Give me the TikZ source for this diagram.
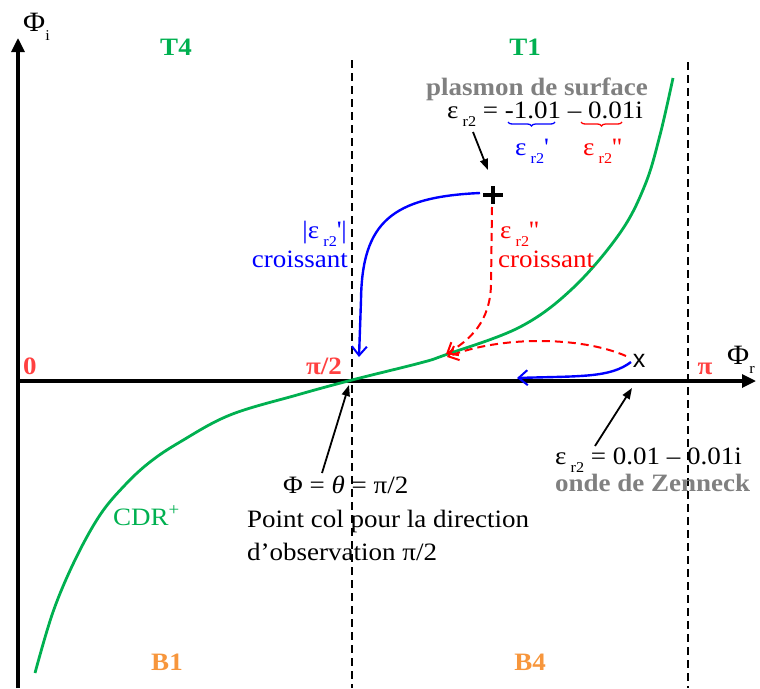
\documentclass[tikz,border=0pt]{standalone}
\usepackage{fontspec}
\setmainfont{Liberation Serif}[FakeStretch=1.08]
\newfontfamily\arialf{Liberation Sans}
\usetikzlibrary{arrows.meta,decorations.pathreplacing}
\definecolor{cgreen}{HTML}{00B050}
\definecolor{cred}{HTML}{FF0000}
\definecolor{lred}{HTML}{FF4040}
\definecolor{cblue}{HTML}{0000FF}
\definecolor{corange}{HTML}{F7963C}
\definecolor{cgray}{HTML}{808080}
\newcommand\subsc[1]{\smash{\raisebox{-0.33em}{\fontsize{15}{15}\selectfont #1}}}
\newcommand\er{ε\,\subsc{r2}}
\newcommand\dprime{\textquotesingle\kern0.5pt\textquotesingle}
\tikzset{
  txt/.style={inner sep=0pt, font=\fontsize{25}{28}\selectfont},
  btxt/.style={inner sep=0pt, font=\fontsize{25}{28}\selectfont\bfseries},
  axis/.style={line width=3.2pt, -{Triangle[length=14pt,width=13pt]}},
  vdash/.style={line width=1.8pt, dash pattern=on 8pt off 5pt},
  ptr/.style={line width=1.8pt, -{Triangle[length=11pt,width=8pt]}},
  barb/.style={-{Straight Barb[length=9pt,width=15pt,line width=2pt]}},
  bluearr/.style={cblue, line width=2.4pt, barb},
  redarr/.style={cred, line width=2pt, dash pattern=on 8pt off 5pt, barb},
  brc/.style={line width=1.3pt, decorate, decoration={brace, amplitude=4pt, mirror}},
}
\begin{document}
\begin{tikzpicture}[x=1pt,y=-1pt]
\useasboundingbox (0,0) rectangle (760,688);
% dashed verticals
\draw[vdash] (352,60) -- (352,688);
\draw[vdash] (688,62) -- (688,688);
% axes
\coordinate (o1) at (18,688);
\coordinate (yt) at (18,38);
\coordinate (o2) at (18,381);
\coordinate (xt) at (756,381);
\draw[axis] (o1) -- (yt);
\draw[axis] (o2) -- (xt);
% green curve CDR+
\draw[cgreen, line width=2.8pt] plot[smooth, tension=0.6] coordinates {(35,673) (53,612) (75,560) (100,515) (125,485) (150,462) (180,442) (230,415) (297,395) (352,380) (420,363) (445,355) (520,327) (573,288) (620,233) (645,185) (660,135) (673,78)};
% axis labels
\node[inner sep=0pt, font=\fontsize{28}{30}\selectfont, anchor=base west] (phii) at (23,31) {Φ\subsc{i}};
\node[inner sep=0pt, font=\fontsize{28}{30}\selectfont, anchor=base west] (phir) at (727,364) {Φ\subsc{r}};
% region labels
\node[btxt, cgreen, anchor=base] (t4) at (176,55) {T4};
\node[btxt, cgreen, anchor=base] (t1) at (525,55) {T1};
\node[btxt, corange, anchor=base] (b1) at (167,670) {B1};
\node[btxt, corange, anchor=base] (b4) at (530,670) {B4};
\node[btxt, lred, anchor=base] (z0) at (30,374) {0};
\node[btxt, lred, anchor=base] (zpi2) at (324,374) {π/2};
\node[btxt, lred, anchor=base] (zpi) at (705,374) {π};
\node[txt, cgreen, anchor=base west] (cdr) at (113,525) {CDR\textsuperscript{+}};
% plasmon
\node[btxt, cgray, anchor=base] (plas) at (537,95) {plasmon de surface};
\node[txt, anchor=base west] (eq1) at (447,118) {\er{} = -1.01 – 0.01i};
\draw[brc, cblue] (508,122) -- (555,122);
\draw[brc, cred] (581,122) -- (622,122);
\node[txt, cblue, anchor=base west] (erp) at (515,155) {\er\textquotesingle};
\node[txt, cred, anchor=base west] (erpp) at (583,155) {\er\dprime};
% plus and x markers
\coordinate (plus) at (493,195);
\draw[line width=3.4pt] (483,195) -- (503,195) (493,186) -- (493,204);
\node[inner sep=0pt, font=\arialf\fontsize{25}{25}\selectfont] (zx) at (639,361) {x};
% croissant labels
\node[txt, cblue, anchor=base east] (bl1) at (347,238) {|\er\textquotesingle|};
\node[txt, cblue, anchor=base east] (bl2) at (348,267) {croissant};
\node[txt, cred, anchor=base west] (rl1) at (500,238) {\er\dprime};
\node[txt, cred, anchor=base west] (rl2) at (498,267) {croissant};
% blue arrows
\coordinate (bs1) at (480,193);
\coordinate (be1) at (359,357);
\draw[bluearr] (bs1) .. controls (392,197) and (362,222) .. (361,300) -- (be1);
\coordinate (bs2) at (631,362);
\coordinate (be2) at (517,378);
\draw[bluearr] (bs2) .. controls (610,378) and (580,376) .. (be2);
% red dashed arrows
\coordinate (rs1) at (492,207);
\coordinate (re1) at (446,354);
\draw[redarr] (rs1) -- (491,285) .. controls (490,322) and (470,340) .. (re1);
\coordinate (rs2) at (626,356);
\coordinate (re2) at (447,357);
\draw[redarr] (rs2) .. controls (580,336) and (500,336) .. (re2);
% col point text
\node[txt, anchor=base west] (col1) at (283,493) {Φ = \textit{θ} = π/2};
\node[txt, anchor=base west] (col2) at (247,527) {Point col pour la direction};
\node[txt, anchor=base west] (col3) at (247,560) {d’observation π/2};
% zenneck text
\node[txt, anchor=base west] (zen1) at (555,464) {\er{} = 0.01 – 0.01i};
\node[btxt, cgray, anchor=base west] (zen2) at (555,491) {onde de Zenneck};
% pointer arrows
\coordinate (p1s) at (473,132);
\coordinate (p1e) at (488,170);
\draw[ptr] (p1s) -- (p1e);
\coordinate (p2s) at (322,473);
\coordinate (p2e) at (349,385);
\draw[ptr] (p2s) -- (p2e);
\coordinate (p3s) at (595,446);
\coordinate (p3e) at (632,388);
\draw[ptr] (p3s) -- (p3e);
\end{tikzpicture}
\end{document}
